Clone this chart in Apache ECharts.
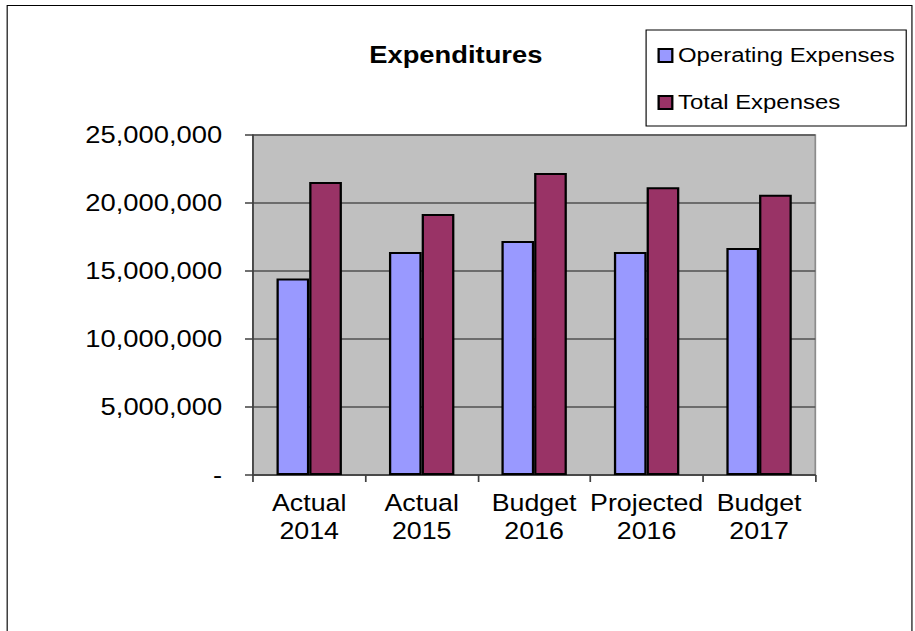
<!DOCTYPE html>
<html>
<head>
<meta charset="utf-8">
<script src="https://cdn.jsdelivr.net/npm/echarts@6/dist/echarts.min.js"></script>
<style>
  html, body { margin: 0; padding: 0; background: #fff; overflow: hidden; }
  #chart { width: 803px; height: 631px; transform: scaleX(1.1395); transform-origin: 0 0; }
</style>
</head>
<body>
<div id="chart"></div>
<script>
// Expenditure figures by period
const categories = ['Actual\n2014', 'Actual\n2015', 'Budget\n2016', 'Projected\n2016', 'Budget\n2017'];
const operatingExpenses = [14450000, 16400000, 17200000, 16400000, 16700000];
const totalExpenses = [21550000, 19200000, 22200000, 21150000, 20600000];
const yTicks = { min: 0, max: 25000000, interval: 5000000 };

const FONT = 'Liberation Sans, Arial, sans-serif';

function fmtNumber(v) {
  if (v === 0) return '-';
  return String(v).replace(/\B(?=(\d{3})+(?!\d))/g, ',');
}

const chart = echarts.init(document.getElementById('chart'), null, { renderer: 'svg' });

chart.setOption({
  backgroundColor: '#ffffff',
  animation: false,
  textStyle: { fontFamily: FONT, color: '#000' },
  title: {
    text: 'Expenditures',
    left: 324,
    top: 43,
    padding: 0,
    textStyle: { fontFamily: FONT, fontSize: 24, fontWeight: 'bold', color: '#000' }
  },
  legend: {
    orient: 'vertical',
    left: 567,
    top: 30,
    padding: [15, 10, 13, 10],
    itemWidth: 12,
    itemHeight: 13,
    itemGap: 26,
    icon: 'rect',
    borderColor: '#000',
    borderWidth: 1,
    backgroundColor: '#fff',
    textStyle: { fontFamily: FONT, fontSize: 21, color: '#000' },
    itemStyle: { borderColor: '#000', borderWidth: 2 },
    data: ['Operating Expenses', 'Total Expenses']
  },
  grid: {
    left: 222,
    right: 87.5,
    top: 135,
    bottom: 156,
    show: true,
    backgroundColor: '#c0c0c0',
    borderColor: '#8c8c8c',
    borderWidth: 1.5
  },
  xAxis: {
    type: 'category',
    data: categories,
    axisLine: { lineStyle: { color: '#404040', width: 1.5 } },
    axisTick: { show: true, length: 7, lineStyle: { color: '#404040', width: 1.5 } },
    axisLabel: {
      margin: 14,
      fontFamily: FONT,
      fontSize: 23.5,
      lineHeight: 28,
      color: '#000',
      interval: 0
    }
  },
  yAxis: {
    type: 'value',
    min: yTicks.min,
    max: yTicks.max,
    interval: yTicks.interval,
    axisLine: { show: true, lineStyle: { color: '#404040', width: 1.5 } },
    axisTick: { show: true, length: 7, lineStyle: { color: '#404040', width: 1.5 } },
    splitLine: { show: true, lineStyle: { color: '#505050', width: 1.5 } },
    axisLabel: {
      margin: 27,
      fontFamily: FONT,
      fontSize: 24,
      color: '#000',
      formatter: fmtNumber
    }
  },
  series: [
    {
      name: 'Operating Expenses',
      type: 'bar',
      data: operatingExpenses,
      barWidth: 28.7,
      barGap: '0%',
      itemStyle: { color: '#9999ff', borderColor: '#000', borderWidth: 2 }
    },
    {
      name: 'Total Expenses',
      type: 'bar',
      data: totalExpenses,
      barWidth: 28.7,
      barGap: '0%',
      itemStyle: { color: '#993366', borderColor: '#000', borderWidth: 2 }
    }
  ],
  graphic: [
    {
      type: 'rect',
      silent: true,
      z: -1,
      shape: { x: 6.3, y: 5.5, width: 794, height: 700 },
      style: { fill: 'none', stroke: '#000', lineWidth: 1 }
    }
  ]
});
</script>
</body>
</html>
